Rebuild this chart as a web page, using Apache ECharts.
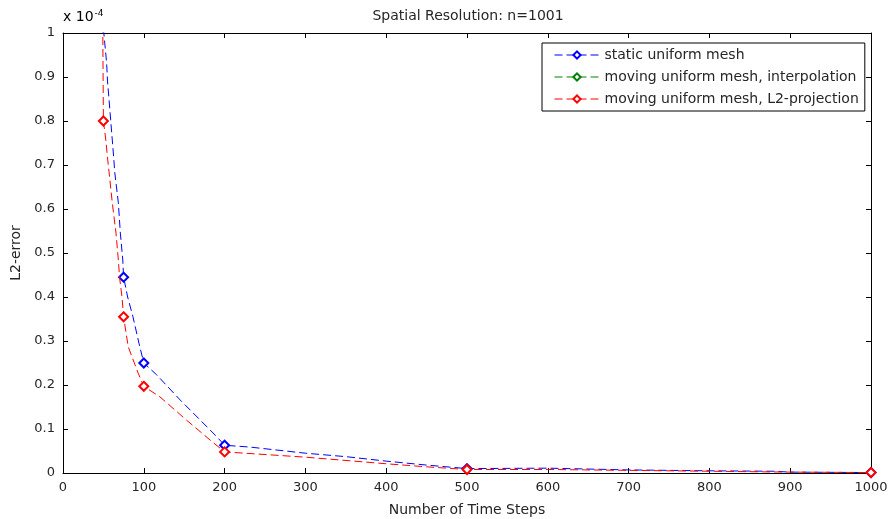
<!DOCTYPE html>
<html>
<head>
<meta charset="utf-8">
<script src="https://cdn.jsdelivr.net/npm/echarts@6/dist/echarts.min.js"></script>
<style>
html, body { margin: 0; padding: 0; background: #fff; }
#main { width: 888px; height: 519px; }
</style>
</head>
<body>
<div id="main"></div>
<script>
// values in units of 1e-4
var names = ['static uniform mesh', 'moving uniform mesh, interpolation', 'moving uniform mesh, L2-projection'];
var colors = ['#0000ff', '#008000', '#ff0000'];

var staticX = [50, 54, 55, 57, 59, 61, 62.7, 64, 68.5, 71, 74, 75, 80, 86.6, 94, 100, 116, 145, 170, 190, 200, 231, 300, 351, 400, 450, 500, 600, 700, 800, 880, 900, 1000];
var staticY = [1.01, 0.932, 0.893, 0.848, 0.802, 0.757, 0.718, 0.684, 0.614, 0.545, 0.484, 0.445, 0.4, 0.355, 0.295, 0.25, 0.223, 0.166, 0.12, 0.083, 0.063, 0.059, 0.045, 0.037, 0.027, 0.018, 0.01, 0.011, 0.007, 0.005, 0.004, 0.002, 0.001];

var interpX = [49, 49.5, 50, 53, 55, 57, 61, 65.6, 68.5, 70, 73, 75, 80.7, 93, 100, 120, 153, 182, 200, 300, 400, 450, 500, 600, 700, 800, 900, 1000];
var interpY = [1.1, 0.932, 0.8, 0.757, 0.718, 0.684, 0.614, 0.545, 0.484, 0.445, 0.4, 0.355, 0.287, 0.227, 0.197, 0.173, 0.12, 0.075, 0.048, 0.036, 0.021, 0.014, 0.008, 0.008, 0.006, 0.004, 0.002, 0.001];

var projX = [49, 49.5, 50, 53, 55, 57, 61, 65.6, 68.5, 70, 73, 75, 80.7, 93, 100, 120, 153, 182, 200, 300, 400, 450, 500, 600, 700, 800, 900, 1000];
var projY = [1.1, 0.932, 0.8, 0.757, 0.718, 0.684, 0.614, 0.545, 0.484, 0.445, 0.4, 0.355, 0.287, 0.227, 0.197, 0.173, 0.12, 0.075, 0.048, 0.036, 0.021, 0.014, 0.008, 0.008, 0.006, 0.004, 0.002, 0.001];

// time steps that carry a marker
var markerX = [50, 75, 100, 200, 500, 1000];

var xTicks = [0, 100, 200, 300, 400, 500, 600, 700, 800, 900, 1000];
var yTicks = [0, 0.1, 0.2, 0.3, 0.4, 0.5, 0.6, 0.7, 0.8, 0.9, 1];

function build(xs, ys) {
	var out = [];
	for (var i = 0; i < xs.length; i++) {
		out.push({
			value: [xs[i], ys[i]],
			symbol: markerX.indexOf(xs[i]) >= 0 ? 'emptyDiamond' : 'none'
		});
	}
	return out;
}

var txt = '#262626';
var font = 'DejaVu Sans, sans-serif';
var dash = [8, 4];

// interpolation curve lies exactly under the L2-projection curve, so it is drawn fully covered
function mkSeries(i, xs, ys, hidden) {
	return {
		name: names[i],
		type: 'line',
		data: build(xs, ys),
		symbol: 'emptyDiamond',
		symbolSize: 9,
		showAllSymbol: true,
		color: colors[i],
		lineStyle: { color: colors[i], width: 1, type: dash, opacity: hidden ? 0 : 1 },
		itemStyle: { color: colors[i], borderColor: colors[i], borderWidth: 1, opacity: hidden ? 0 : 1 },
		emphasis: { disabled: true },
		animation: false,
		z: 2 + i
	};
}

var chart = echarts.init(document.getElementById('main'));
var option = {
	backgroundColor: '#fff',
	animation: false,
	title: {
		text: 'Spatial Resolution: n=1001',
		left: 463,
		top: 4,
		textAlign: 'center',
		textStyle: { fontFamily: font, fontSize: 14, fontWeight: 'normal', color: txt }
	},
	grid: { left: 63, right: 17, top: 33, bottom: 46, containLabel: false, outerBoundsMode: 'none' },
	legend: {
		orient: 'vertical',
		left: 542,
		top: 43,
		padding: [5, 6, 5, 12],
		itemGap: 8,
		itemWidth: 45,
		itemHeight: 9,
		borderColor: '#000',
		borderWidth: 1,
		backgroundColor: '#fff',
		textStyle: { fontFamily: font, fontSize: 14, color: txt },
		data: names.map(function (n, i) {
			return {
				name: n,
				lineStyle: { color: colors[i], width: 1, type: dash, opacity: 1 },
				itemStyle: { color: colors[i], borderColor: colors[i], borderWidth: 1, opacity: 1 }
			};
		})
	},
	graphic: [{
		type: 'text',
		left: 63,
		top: 9,
		style: {
			text: '{a|x 10}{b|-4}',
			rich: {
				a: { fontFamily: font, fontSize: 14, color: txt },
				b: { fontFamily: font, fontSize: 9, color: txt, verticalAlign: 'top', padding: [0, 0, 8, 1] }
			}
		}
	}],
	xAxis: [{
		type: 'value',
		min: 0,
		max: 1000,
		interval: 100,
		name: 'Number of Time Steps',
		nameLocation: 'middle',
		nameGap: 30,
		nameTextStyle: { fontFamily: font, fontSize: 14, color: txt },
		axisLine: { show: true, onZero: false, lineStyle: { color: '#000', width: 1 } },
		axisTick: { show: true, inside: true, length: 5, lineStyle: { color: '#000' } },
		splitLine: { show: false },
		axisLabel: { fontFamily: font, fontSize: 13, color: txt, margin: 8,
			formatter: function (v) { return xTicks.indexOf(v) >= 0 ? String(v) : ''; } }
	}, {
		type: 'value',
		position: 'top',
		min: 0,
		max: 1000,
		interval: 100,
		axisLine: { show: true, onZero: false, lineStyle: { color: '#000', width: 1 } },
		axisTick: { show: true, inside: true, length: 5, lineStyle: { color: '#000' } },
		splitLine: { show: false },
		axisLabel: { show: false }
	}],
	yAxis: [{
		type: 'value',
		min: 0,
		max: 1,
		interval: 0.1,
		name: 'L2-error',
		nameLocation: 'middle',
		nameGap: 34,
		nameTextStyle: { fontFamily: font, fontSize: 14, color: txt },
		axisLine: { show: true, onZero: false, lineStyle: { color: '#000', width: 1 } },
		axisTick: { show: true, inside: true, length: 5, lineStyle: { color: '#000' } },
		splitLine: { show: false },
		axisLabel: { fontFamily: font, fontSize: 13, color: txt, margin: 8,
			formatter: function (v) {
				var r = Math.round(v * 10) / 10;
				return yTicks.indexOf(r) >= 0 ? String(r) : '';
			} }
	}, {
		type: 'value',
		position: 'right',
		min: 0,
		max: 1,
		interval: 0.1,
		axisLine: { show: true, onZero: false, lineStyle: { color: '#000', width: 1 } },
		axisTick: { show: true, inside: true, length: 5, lineStyle: { color: '#000' } },
		splitLine: { show: false },
		axisLabel: { show: false }
	}],
	series: [
		mkSeries(0, staticX, staticY, false),
		mkSeries(1, interpX, interpY, true),
		mkSeries(2, projX, projY, false)
	]
};
chart.setOption(option);
</script>
</body>
</html>
